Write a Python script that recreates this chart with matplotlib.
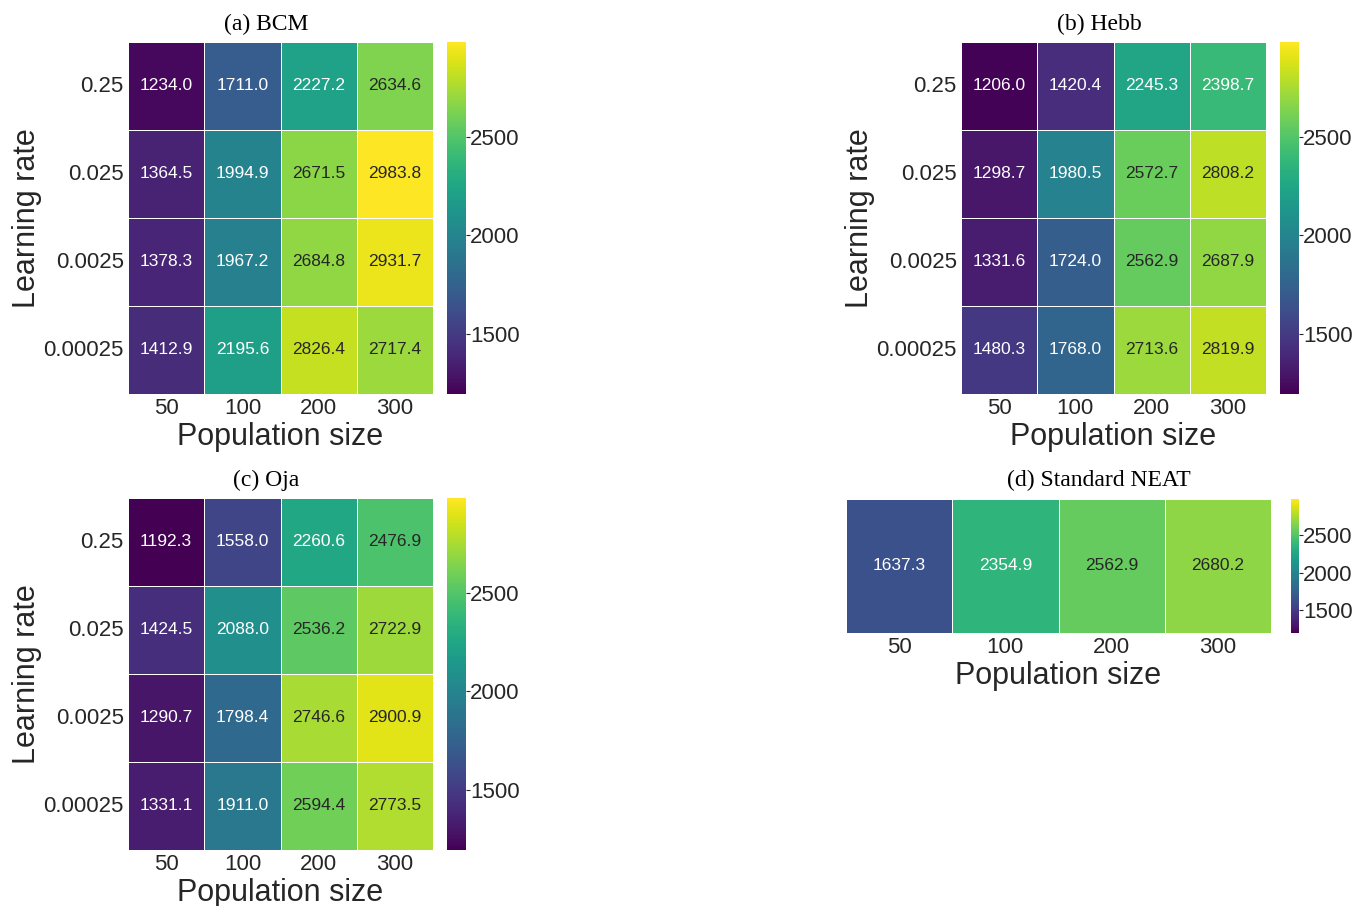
import matplotlib
matplotlib.use('Agg')
import matplotlib.pyplot as plt
import numpy as np
import seaborn as sns

"""----Data----"""
pop_sizes = ['50', '100', '200', '300']
learning_rates = ['0.25', '0.025', '0.0025', '0.00025']

bcm = [[1234.0, 1711.0, 2227.2, 2634.6],
       [1364.5, 1994.9, 2671.5, 2983.8],
       [1378.3, 1967.2, 2684.8, 2931.7],
       [1412.9, 2195.6, 2826.4, 2717.4]]
hebb = [[1206.0, 1420.4, 2245.3, 2398.7],
        [1298.7, 1980.5, 2572.7, 2808.2],
        [1331.6, 1724.0, 2562.9, 2687.9],
        [1480.3, 1768.0, 2713.6, 2819.9]]
oja = [[1192.3, 1558.0, 2260.6, 2476.9],
       [1424.5, 2088.0, 2536.2, 2722.9],
       [1290.7, 1798.4, 2746.6, 2900.9],
       [1331.1, 1911.0, 2594.4, 2773.5]]
neat = [[1637.3, 2354.9, 2562.9, 2680.2]]

"""----Config----"""
sns.set_style('white')
plt.rcParams['font.family'] = ['Liberation Sans', 'DejaVu Sans']
plt.rcParams['text.color'] = '#262626'
plt.rcParams['xtick.color'] = '#262626'
plt.rcParams['ytick.color'] = '#262626'
plt.rcParams['axes.labelcolor'] = '#262626'

all_vals = np.concatenate([np.ravel(bcm), np.ravel(hebb), np.ravel(oja), np.ravel(neat)])
vmin, vmax = all_vals.min(), all_vals.max()

W, H = 1356, 906


def box(x0, y0, x1, y1):
    return [x0 / W, (H - y1) / H, (x1 - x0) / W, (y1 - y0) / H]


def draw(fig, data, title, title_xy, hm_box, cb_box, ylabels):
    ax = fig.add_axes(box(*hm_box))
    cax = fig.add_axes(box(*cb_box))
    sns.heatmap(np.array(data), ax=ax, cbar_ax=cax, cmap='viridis', vmin=vmin, vmax=vmax,
                annot=True, fmt='.1f', annot_kws={'size': 12.5}, linewidths=0.7, linecolor='white',
                xticklabels=pop_sizes, yticklabels=ylabels if ylabels else False)
    fig.text(title_xy[0] / W, 1 - title_xy[1] / H, title, family='Liberation Serif',
             fontsize=17, ha='center', va='center', color='black')
    ax.set_xlabel('Population size', fontsize=22, labelpad=2)
    ax.tick_params(axis='both', length=0, labelsize=16, pad=3)
    plt.setp(ax.get_yticklabels(), rotation=0)
    if ylabels:
        ax.set_ylabel('Learning rate', fontsize=22, labelpad=1)
    cax.tick_params(labelsize=16, length=3, width=0.8, pad=0)
    cax.set_yticks([1500, 2000, 2500])
    for s in cax.spines.values():
        s.set_visible(False)
    return ax


def main():
    fig = plt.figure(figsize=(13.56, 9.06), dpi=100)
    draw(fig, bcm, '(a) BCM', (266, 24), (128, 42, 433, 394), (447, 42, 466, 394), learning_rates)
    draw(fig, hebb, '(b) Hebb', (1099, 24), (961, 42, 1266, 394), (1280, 42, 1299, 394), learning_rates)
    draw(fig, oja, '(c) Oja', (266, 480), (128, 498, 433, 850), (447, 498, 466, 850), learning_rates)
    draw(fig, neat, '(d) Standard NEAT', (1099, 480), (846, 499, 1271, 633), (1291, 499, 1299, 633), None)
    fig.savefig('out.png', dpi=100)


if __name__ == '__main__':
    main()
